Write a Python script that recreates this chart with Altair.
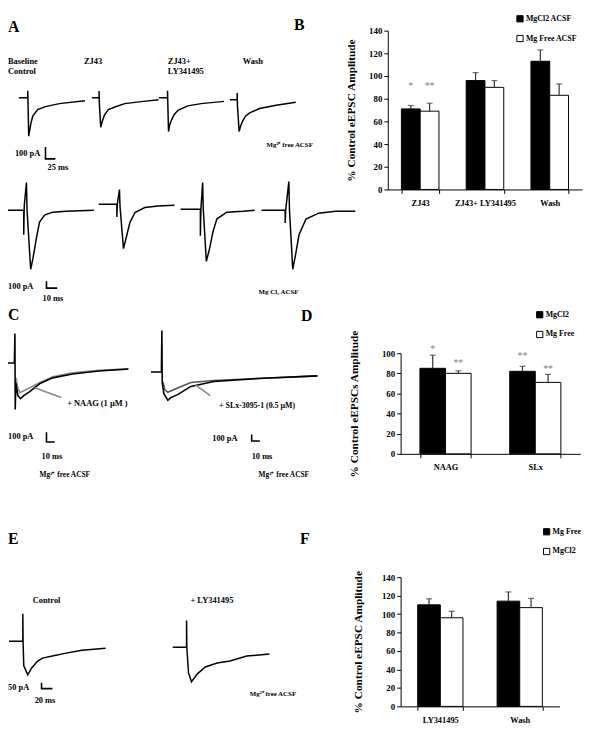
import altair as alt
import pandas as pd

FONT = "Liberation Serif"
M = 8            # page margin
W, H = 592, 722  # drawing area

# ---------------- bar chart data ----------------
b_cats = ["ZJ43", "ZJ43+ LY341495", "Wash"]
b_series = ["MgCl2 ACSF", "Mg Free ACSF"]
b_mean_mgcl2 = [71, 96, 113]
b_err_mgcl2 = [3, 7, 10]
b_mean_free = [69, 90, 83]
b_err_free = [7, 6, 10]
b_star_cat = ["ZJ43", "ZJ43"]
b_star_series = ["MgCl2 ACSF", "Mg Free ACSF"]
b_star_text = ["*", "**"]
b_star_y = [91, 91]

d_cats = ["NAAG", "SLx"]
d_series = ["MgCl2", "Mg Free"]
d_mean_mgcl2 = [85, 82]
d_err_mgcl2 = [13, 5]
d_mean_free = [80, 71]
d_err_free = [2.5, 8]
d_star_cat = ["NAAG", "NAAG", "SLx", "SLx"]
d_star_series = ["MgCl2", "Mg Free", "MgCl2", "Mg Free"]
d_star_text = ["*", "**", "**", "**"]
d_star_y = [104, 90, 97, 84]

f_cats = ["LY341495", "Wash"]
f_series = ["Mg  Free", "MgCl2"]
f_mean_free = [110, 114]
f_err_free = [6.5, 10]
f_mean_mgcl2 = [96, 107]
f_err_mgcl2 = [7, 10]

# ---------------- traces (time ms, current pA) ----------------
a1_t = [0, 22.5, 22.5, 23.3, 25, 30, 35, 47.5, 67.5, 102.5, 167.5]
a1_i = [0, 0, 58, -50, -325, -225, -158, -100, -75, -50, -25]
a2_t = [0, 18.3, 18.3, 19, 22.5, 26.3, 31.8, 41.8, 58.3, 83.3, 125, 169.3]
a2_i = [0, 0, 56, -50, -250, -200, -147, -100, -78, -50, -33, -17]
a3_t = [0, 21.8, 21.8, 22.5, 24.3, 27.5, 31.8, 38.8, 48.3, 73.3, 106.8, 165]
a3_i = [0, 0, 58, -50, -286, -225, -189, -142, -106, -69, -50, -31]
a4_t = [0, 18.3, 18.3, 19, 23.3, 27.5, 33.3, 40, 50, 75, 116.8, 166.8]
a4_i = [0, 0, 56, -50, -269, -217, -172, -137, -111, -75, -47, -22]

b1_t = [0, 21.8, 21.8, 22.3, 24.3, 24.8, 28.2, 30.3, 33.4, 36.4, 41, 48.5, 60.7, 86.5]
b1_i = [0, 0, -357, 71, 400, 14, -857, -700, -414, -171, -71, -29, -14, 0]
b2_t = [0, 16.7, 16.7, 17.1, 19.1, 19.6, 22.8, 25.8, 28.8, 33.4, 42.5, 54.6, 69.8]
b2_i = [0, 0, -186, 0, 214, -29, -643, -453, -262, -119, -47, -24, -14]
b3_t = [0, 18.2, 18.2, 18.7, 20.3, 20.9, 23.7, 26.7, 29.8, 33.4, 42.5, 57.6, 68.3]
b3_i = [0, 0, -386, 0, 386, 0, -757, -571, -329, -143, -43, -29, -14]
b4_t = [0, 21.8, 21.8, 22.3, 25.2, 25.8, 28.8, 31.4, 34.6, 41, 52.8, 68.3, 86.5]
b4_i = [0, 0, -186, 0, 414, 0, -857, -643, -357, -129, -43, -14, -14]

c1_ctrl_t = [0, 17.4, 18, 18.4, 19.2, 21.6, 24.8, 28.8, 36, 48, 64, 88, 120, 156]
c1_ctrl_i = [0, 0, 300, -470, -200, -330, -360, -330, -290, -210, -150, -110, -80, -60]
c1_naag_t = [19.2, 21.6, 24, 28.8, 36, 48, 64, 88, 120, 156]
c1_naag_i = [-150, -260, -300, -280, -250, -200, -140, -100, -75, -60]

c2_ctrl_t = [0, 12.6, 13.2, 13.6, 15.6, 20.4, 24, 32.4, 48.4, 76.4, 136.4, 202.4]
c2_ctrl_i = [0, 0, 630, -165, -330, -430, -390, -345, -220, -145, -95, -60]
c2_slx_t = [14.4, 16.8, 20.4, 32.4, 48.4, 76.4, 136.4, 202.4]
c2_slx_i = [-150, -270, -310, -245, -160, -130, -95, -60]

e1_t = [0, 25.5, 25.5, 26, 27.3, 34.6, 41.9, 52.8, 61.9, 80.1, 105.6, 134.7, 178.4]
e1_i = [0, 0, 233, 0, -208, -283, -225, -167, -142, -125, -100, -75, -58]
e2_t = [0, 25.5, 25.5, 26, 29.1, 34.6, 45.5, 60.1, 81.9, 105.6, 136.5, 178.4]
e2_i = [0, 0, 225, 0, -217, -292, -225, -167, -133, -117, -75, -58]

# scale bars (ms, pA)
sb25_t, sb25_i = [0, 0, 25], [100, 0, 0]
sb10_t, sb10_i = [0, 0, 10], [100, 0, 0]
sb20_t, sb20_i = [0, 0, 20], [50, 0, 0]

layers = []


def trace(ts, cs, origin, ms_px, pa_px, color="black", width=1.5):
    df = pd.DataFrame({"t": ts, "i": cs, "k": list(range(len(ts)))})
    x0, y0 = origin[0] - M, origin[1] - M
    xs = alt.Scale(domain=[0, 100], range=[x0, x0 + 100 / ms_px], zero=False, nice=False)
    ys = alt.Scale(domain=[0, 100], range=[y0, y0 - 100 / pa_px], zero=False, nice=False)
    return alt.Chart(df).mark_line(color=color, strokeWidth=width).encode(
        x=alt.X("t:Q", scale=xs, axis=None),
        y=alt.Y("i:Q", scale=ys, axis=None),
        order="k:Q",
    )


def text(s, x, y, size=8.5, bold=True, color="black"):
    return alt.Chart(alt.Data(values=[{}])).mark_text(
        text=s, align="left", baseline="middle", font=FONT, fontSize=size,
        fontWeight="bold" if bold else "normal", color=color,
    ).encode(x=alt.value(x - M), y=alt.value(y - M))


def seg(x1, y1, x2, y2, color="#8a8a8a", width=1.6):
    return alt.Chart(alt.Data(values=[{}])).mark_rule(color=color, strokeWidth=width).encode(
        x=alt.value(x1 - M), y=alt.value(y1 - M), x2=alt.value(x2 - M), y2=alt.value(y2 - M))


def bar_panel(cats, series, means, errs, st_cat, st_ser, st_txt, st_y,
              x_rng, y_rng, ydom, title, tpad, leg_xy, pi=0.42, po=0.21):
    rows = []
    for si, s in enumerate(series):
        for ci, c in enumerate(cats):
            rows.append(dict(cat=c, series=s, mean=means[si][ci], err=errs[si][ci],
                             top=means[si][ci] + errs[si][ci]))
    df = pd.DataFrame(rows)
    sdf = pd.DataFrame({"cat": st_cat, "series": st_ser, "txt": st_txt, "y": st_y})
    x_enc = alt.X(
        "cat:N", sort=cats, title=None,
        scale=alt.Scale(domain=cats, range=[x_rng[0] - M, x_rng[1] - M],
                        paddingInner=pi, paddingOuter=po),
        axis=alt.Axis(orient="bottom", offset=(y_rng[0] - M) - H, labelAngle=0,
                      labelFont=FONT, labelFontWeight="bold", labelFontSize=8.5,
                      labelColor="black", labelPadding=5, tickBand="extent",
                      tickSize=4, tickColor="black", domainColor="black",
                      labelOverlap=False, labelLimit=200),
    )
    xo = alt.XOffset("series:N", sort=series, scale=alt.Scale(domain=series))
    yscale = alt.Scale(domain=ydom, range=[y_rng[0] - M, y_rng[1] - M], nice=False)
    y_axis = alt.Axis(orient="left", offset=-(x_rng[0] - M), values=list(range(0, ydom[1] + 1, 20)),
                      labelFont=FONT, labelFontWeight="bold", labelFontSize=9, labelColor="black",
                      tickSize=4, tickColor="black", domainColor="black", grid=False,
                      title=title, titleFont=FONT, titleFontWeight="bold", titleFontSize=11.5,
                      titleColor="black", titlePadding=tpad, labelPadding=2)
    base = alt.Chart(df)
    bars = base.mark_bar(stroke="black", strokeWidth=1).encode(
        x=x_enc, xOffset=xo,
        y=alt.Y("mean:Q", scale=yscale, axis=y_axis),
        fill=alt.Fill("series:N", sort=series,
                      scale=alt.Scale(domain=series, range=["black", "white"]),
                      legend=alt.Legend(orient="none", legendX=leg_xy[0] - M, legendY=leg_xy[1] - M,
                                        title=None, symbolType="square", symbolSize=40,
                                        symbolStrokeColor="black", symbolStrokeWidth=1,
                                        labelFont=FONT, labelFontWeight="bold", labelFontSize=8,
                                        labelColor="black", labelOffset=2, rowPadding=8)),
    )
    ebar = base.mark_rule(color="#333", strokeWidth=1.2).encode(
        x=x_enc, xOffset=xo, y=alt.Y("mean:Q", scale=yscale, axis=y_axis), y2="top:Q")
    caps = base.mark_tick(color="#333", thickness=1.2, size=6, orient="horizontal").encode(
        x=x_enc, xOffset=xo, y=alt.Y("top:Q", scale=yscale, axis=y_axis))
    stars = alt.Chart(sdf).mark_text(font=FONT, fontSize=10, color="#808080", baseline="middle").encode(
        x=x_enc, xOffset=xo, y=alt.Y("y:Q", scale=yscale, axis=y_axis), text="txt:N")
    return alt.layer(bars, ebar, caps, stars)


# ---------------- panel A ----------------
TOP = (2.5, 8.33)
BOT = (0.91, 14.3)
layers += [
    trace(a1_t, a1_i, (19, 94), *TOP),
    trace(a2_t, a2_i, (93, 94), *TOP),
    trace(a3_t, a3_i, (161, 94), *TOP),
    trace(a4_t, a4_i, (233, 96), *TOP),
    trace(sb25_t, sb25_i, (46, 156), *TOP, width=1.6),
    trace(b1_t, b1_i, (0, 208), *BOT),
    trace(b2_t, b2_i, (100, 202), *BOT),
    trace(b3_t, b3_i, (183, 207), *BOT),
    trace(b4_t, b4_i, (265, 208), *BOT),
    trace(sb10_t, sb10_i, (47, 287), *BOT, width=1.6),
]
layers += [
    text("A", 8, 22, 16), text("B", 298, 20, 16), text("C", 8, 314, 16),
    text("D", 305, 315, 16), text("E", 8, 541, 16), text("F", 304, 541, 16),
    text("Baseline", 8, 57), text("Control", 8, 67), text("ZJ43", 85, 57),
    text("ZJ43+", 170, 57), text("LY341495", 170, 67), text("Wash", 246, 57),
    text("100 pA", 15, 150), text("25 ms", 48, 164),
    text("Mg²⁺ free ACSF", 270, 142, 7), text("100 pA", 8, 285), text("10 ms", 43, 297),
    text("Mg Cl₂ ACSF", 262, 291, 7),
]

# ---------------- panel C ----------------
CL = (1.2, 10)
CR = (1.2, 15)
layers += [
    trace(c1_naag_t, c1_naag_i, (0, 363), *CL, color="#8c8c8c", width=1.8),
    trace(c1_ctrl_t, c1_ctrl_i, (0, 363), *CL, width=1.6),
    trace(sb10_t, sb10_i, (47, 443), *CL, width=1.6),
    trace(c2_slx_t, c2_slx_i, (153, 372), *CR, color="#555", width=1.6),
    trace(c2_ctrl_t, c2_ctrl_i, (153, 372), *CR, width=1.6),
    trace(sb10_t, sb10_i, (255, 442), *CR, width=1.6),
    seg(62, 398, 35, 388), seg(213, 396, 198, 385),
    text("+ NAAG (1 µM )", 68, 403), text("+ SLx-3095-1 (0.5 µM)", 222, 407, 8),
    text("100 pA", 8, 437), text("10 ms", 42, 457), text("Mg²⁺ free ACSF", 40, 476, 7.5),
    text("100 pA", 215, 439), text("10 ms", 255, 457), text("Mg²⁺ free ACSF", 262, 476, 7.5),
]

# ---------------- panel E ----------------
EE = (1.82, 8.33)
layers += [
    trace(e1_t, e1_i, (9, 645), *EE),
    trace(e2_t, e2_i, (175, 651), *EE),
    trace(sb20_t, sb20_i, (42, 693), *EE, width=1.6),
    text("Control", 33, 603), text("+ LY341495", 193, 603),
    text("50 pA", 8, 691), text("20 ms", 35, 705), text("Mg²⁺ free ACSF", 253, 698, 7),
]

# ---------------- bar panels ----------------
layers.append(bar_panel(b_cats, b_series, [b_mean_mgcl2, b_mean_free], [b_err_mgcl2, b_err_free],
                        b_star_cat, b_star_series, b_star_text, b_star_y,
                        (393, 590), (187, 26), [0, 140], "% Control eEPSC Amplitude", 12, (523, 10)))
layers.append(bar_panel(d_cats, d_series, [d_mean_mgcl2, d_mean_free], [d_err_mgcl2, d_err_free],
                        d_star_cat, d_star_series, d_star_text, d_star_y,
                        (406, 588), (455, 353), [0, 100], "% Control eEPSCs Amplitude", 22, (543, 310),
                        pi=0.43, po=0.215))
layers.append(bar_panel(f_cats, f_series, [f_mean_free, f_mean_mgcl2], [f_err_free, f_err_mgcl2],
                        [], [], [], [],
                        (406, 567), (711, 580), [0, 140], "% Control eEPSC Amplitude", 18, (550, 530),
                        pi=0.43, po=0.215))

chart = alt.layer(*layers).resolve_scale(
    x="independent", y="independent", xOffset="independent", fill="independent"
).properties(
    width=W, height=H, autosize=alt.AutoSizeParams(type="none"), padding=0, background="white"
).configure_view(stroke=None)

chart.save("out.html", embed_options={"renderer": "svg", "actions": False})
